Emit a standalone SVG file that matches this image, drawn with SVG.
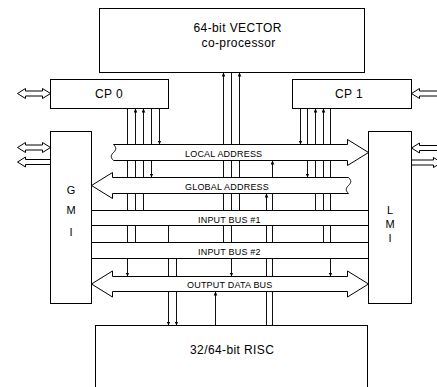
<svg xmlns="http://www.w3.org/2000/svg" width="437" height="387" viewBox="0 0 437 387">
<style>
.box{fill:#fff;stroke:#000;stroke-width:1}
.bus{fill:#fff;stroke:#000;stroke-width:1}
.ln{fill:none;stroke:#111;stroke-width:1}
.ha{fill:#fff;stroke:#000;stroke-width:1}
.t{font-family:"Liberation Sans",Arial,sans-serif;font-size:12px;fill:#000;letter-spacing:0.4px}
.tl{font-family:"Liberation Sans",Arial,sans-serif;font-size:11px;fill:#000;text-anchor:middle}
.bl{font-family:"Liberation Sans",Arial,sans-serif;font-size:9px;fill:#000;letter-spacing:0.2px}
</style>
<defs>
<marker id="ah" viewBox="0 0 4 4" refX="4" refY="2" markerWidth="4" markerHeight="4" markerUnits="userSpaceOnUse" orient="auto">
<path d="M0,0.2 L4,2 L0,3.8 z" fill="#000"/>
</marker>
</defs>

<g id="connectors">
<path class="ln" d="M127.5,108.5 V276.5" marker-end="url(#ah)"/>
<path class="ln" d="M135.5,242.5 V108.5" marker-end="url(#ah)"/>
<path class="ln" d="M143.5,210.5 V108.5" marker-end="url(#ah)"/>
<path class="ln" d="M151.5,108.5 V177.5" marker-end="url(#ah)"/>
<path class="ln" d="M159.5,108.5 V144.5" marker-end="url(#ah)"/>
<path class="ln" d="M223.5,242.5 V72.5" marker-end="url(#ah)"/>
<path class="ln" d="M231.5,72.5 V276.5" marker-end="url(#ah)"/>
<path class="ln" d="M239.5,210.5 V72.5" marker-end="url(#ah)"/>
<path class="ln" d="M300.5,108.5 V144.5" marker-end="url(#ah)"/>
<path class="ln" d="M307.5,108.5 V177.5" marker-end="url(#ah)"/>
<path class="ln" d="M315.5,210.5 V108.5" marker-end="url(#ah)"/>
<path class="ln" d="M323.5,242.5 V108.5" marker-end="url(#ah)"/>
<path class="ln" d="M330.5,108.5 V276.5" marker-end="url(#ah)"/>
<path class="ln" d="M168.5,225.5 V325.5" marker-end="url(#ah)"/>
<path class="ln" d="M176.5,258.5 V325.5" marker-end="url(#ah)"/>
<path class="ln" d="M215.5,325.5 V291.5" marker-end="url(#ah)"/>
<path class="ln" d="M266.5,325.5 V193.5" marker-end="url(#ah)"/>
<path class="ln" d="M272.5,325.5 V160.5" marker-end="url(#ah)"/>
<path class="ha" d="M17.5,93.5 L25.5,88.5 L25.5,91 L42.5,91 L42.5,88.5 L50.5,93.5 L42.5,98.5 L42.5,96 L25.5,96 L25.5,98.5 Z"/>
<path class="ha" d="M17.5,147.5 L25.5,142.5 L25.5,145 L42.5,145 L42.5,142.5 L50.5,147.5 L42.5,152.5 L42.5,150 L25.5,150 L25.5,152.5 Z"/>
<path class="ha" d="M17.5,162 L25.5,157 L25.5,159.5 L50.5,159.5 L50.5,164.5 L25.5,164.5 L25.5,167 Z"/>
<path class="ha" d="M411.5,93.5 L419.5,88.5 L419.5,91 L437.5,91 L437.5,88.5 L445.5,93.5 L437.5,98.5 L437.5,96 L419.5,96 L419.5,98.5 Z"/>
<path class="ha" d="M411.5,148 L419.5,143 L419.5,145.5 L437.5,145.5 L437.5,143 L445.5,148 L437.5,153 L437.5,150.5 L419.5,150.5 L419.5,153 Z"/>
<path class="ha" d="M411.5,160 L433.5,160 L433.5,157.5 L441.5,162.5 L433.5,167.5 L433.5,165 L411.5,165 Z"/>
</g>

<g id="local-address">
<path class="bus" d="M113.5,144.5 L347.5,144.5 L347.5,139.5 L368.5,152.5 L347.5,165.5 L347.5,160.5 L113.5,160.5 C110.5,157.5 110.5,155.5 113.5,152.5 C116.5,149.5 116.5,147.5 113.5,144.5 Z"/>
<text class="bl" x="185" y="157">LOCAL ADDRESS</text>
</g>
<g id="global-address">
<path class="bus" d="M91.5,185.5 L112.5,172.5 L112.5,177.5 L348.5,177.5 C351.5,180.5 351.5,182.5 348.5,185.5 C345.5,188.5 345.5,190.5 348.5,193.5 L112.5,193.5 L112.5,198.5 Z"/>
<text class="bl" x="185" y="190">GLOBAL ADDRESS</text>
</g>
<g id="input-bus-1">
<rect class="bus" x="91.5" y="210.5" width="277" height="15"/>
<text class="bl" x="198" y="222.5">INPUT BUS #1</text>
</g>
<g id="input-bus-2">
<rect class="bus" x="91.5" y="242.5" width="277" height="16"/>
<text class="bl" x="198" y="254.5">INPUT BUS #2</text>
</g>
<g id="output-data-bus">
<path class="bus" d="M91.5,284 L112.5,271 L112.5,276.5 L347.5,276.5 L347.5,271 L368.5,284 L347.5,297 L347.5,291.5 L112.5,291.5 L112.5,297 Z"/>
<text class="bl" x="187" y="287.5">OUTPUT DATA BUS</text>
</g>

<g id="vector">
<rect class="box" x="99.5" y="8.5" width="265" height="64"/>
<text class="t" x="193.5" y="31.5">64-bit VECTOR</text>
<text class="t" x="201.5" y="46.5">co-processor</text>
</g>
<g id="cp0">
<rect class="box" x="50.5" y="79.5" width="118" height="29"/>
<text class="t" x="95" y="98">CP 0</text>
</g>
<g id="cp1">
<rect class="box" x="292.5" y="79.5" width="119" height="29"/>
<text class="t" x="335" y="98">CP 1</text>
</g>
<g id="gmi">
<rect class="box" x="50.5" y="131.5" width="41" height="172"/>
<text class="tl" x="71" y="194">G</text>
<text class="tl" x="71" y="214">M</text>
<text class="tl" x="71" y="236">I</text>
</g>
<g id="lmi">
<rect class="box" x="368.5" y="131.5" width="43" height="172"/>
<text class="tl" x="390" y="213.5">L</text>
<text class="tl" x="390" y="228">M</text>
<text class="tl" x="390" y="241.5">I</text>
</g>
<g id="risc">
<rect class="box" x="95.5" y="325.5" width="272" height="70"/>
<text class="t" x="190" y="354">32/64-bit RISC</text>
</g>
</svg>
